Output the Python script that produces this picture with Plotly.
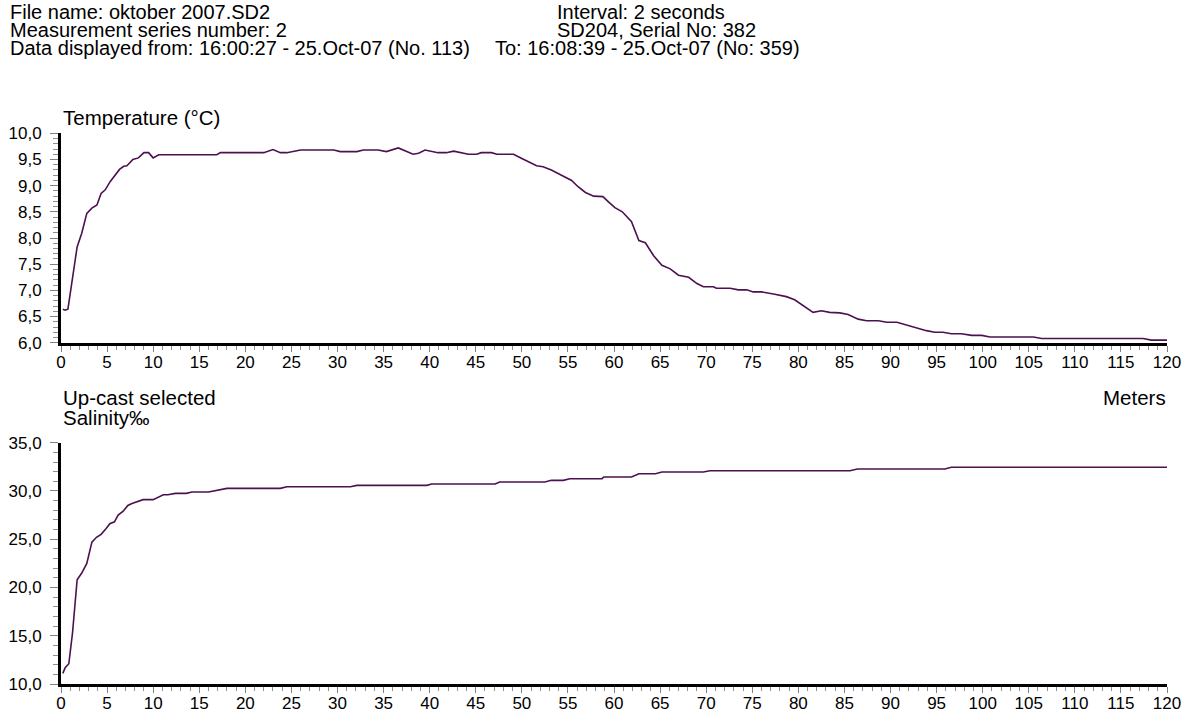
import plotly.graph_objects as go

# ---------------- data ----------------
temp_depth = [0.2, 0.45, 0.75, 1.25, 1.75, 2.25, 2.8, 3.35, 3.9, 4.35, 4.8, 5.35, 5.85, 6.35, 6.8, 7.15,
              7.8, 8.4, 9.0, 9.5, 10.0, 10.6, 16.9, 17.3, 22.0, 23.0, 23.8, 24.5, 26.0, 29.6, 30.3, 32.1,
              32.8, 34.4, 35.3, 36.6, 38.2, 38.8, 39.5, 40.9, 41.8, 42.6, 44.2, 45.1, 45.6, 46.7, 47.3,
              49.1, 50.0, 50.9, 51.6, 52.3, 53.2, 54.3, 55.4, 56.1, 56.9, 57.8, 58.8, 59.4, 60.1, 60.9,
              61.9, 62.7, 63.4, 64.3, 65.2, 66.1, 67.0, 68.1, 69.0, 69.7, 70.8, 71.1, 72.6, 73.5, 74.4,
              75.1, 76.0, 77.3, 78.7, 79.6, 80.7, 81.6, 82.5, 83.4, 84.5, 85.4, 86.5, 87.4, 88.7, 89.6,
              90.7, 91.8, 92.8, 93.9, 94.8, 95.7, 96.6, 97.7, 98.8, 99.9, 100.8, 105.5, 106.4, 117.4,
              118.3, 120.0]
temperature = [6.64, 6.62, 6.64, 7.20, 7.83, 8.09, 8.47, 8.57, 8.63, 8.85, 8.92, 9.08, 9.20, 9.31, 9.37, 9.38,
               9.50, 9.53, 9.63, 9.63, 9.53, 9.59, 9.59, 9.63, 9.63, 9.69, 9.63, 9.63, 9.68, 9.68, 9.65, 9.65,
               9.68, 9.68, 9.65, 9.72, 9.60, 9.62, 9.68, 9.63, 9.63, 9.66, 9.60, 9.60, 9.63, 9.63, 9.60,
               9.60, 9.52, 9.44, 9.38, 9.36, 9.30, 9.20, 9.10, 8.98, 8.87, 8.80, 8.79, 8.69, 8.58, 8.50,
               8.31, 7.95, 7.91, 7.66, 7.48, 7.41, 7.29, 7.25, 7.13, 7.07, 7.07, 7.04, 7.04, 7.01, 7.01,
               6.97, 6.97, 6.93, 6.88, 6.82, 6.68, 6.58, 6.61, 6.58, 6.57, 6.54, 6.45, 6.42, 6.42, 6.39,
               6.39, 6.33, 6.29, 6.23, 6.20, 6.20, 6.17, 6.17, 6.14, 6.14, 6.11, 6.11, 6.08, 6.08,
               6.05, 6.05]

sal_depth = [0.2, 0.45, 0.85, 1.25, 1.75, 2.25, 2.8, 3.35, 3.85, 4.35, 4.9, 5.3, 5.8, 6.2, 6.75, 7.25, 7.7,
             8.4, 8.9, 10.0, 10.6, 11.1, 11.6, 12.4, 13.6, 14.2, 16.0, 16.9, 17.4, 18.0, 23.8, 24.5, 31.4,
             32.1, 39.7, 40.2, 47.1, 47.6, 52.5, 53.2, 54.5, 55.2, 58.7, 58.9, 61.9, 62.7, 64.5, 65.2,
             69.7, 70.4, 85.6, 86.4, 95.9, 96.6, 120.0]
salinity = [11.1, 11.7, 12.1, 15.3, 20.8, 21.5, 22.5, 24.7, 25.2, 25.5, 26.1, 26.6, 26.8, 27.5, 27.9, 28.5, 28.7,
            28.9, 29.1, 29.1, 29.4, 29.6, 29.6, 29.75, 29.75, 29.9, 29.9, 30.1, 30.17, 30.27, 30.27, 30.44, 30.44,
            30.58, 30.58, 30.72, 30.72, 30.93, 30.93, 31.1, 31.1, 31.27, 31.27, 31.45, 31.45, 31.79, 31.79, 31.96,
            31.96, 32.1, 32.1, 32.28, 32.28, 32.45, 32.45]

header_left = ["File name: oktober 2007.SD2",
               "Measurement series number: 2",
               "Data displayed from: 16:00:27 - 25.Oct-07 (No. 113)"]
header_right = ["Interval: 2 seconds", "SD204, Serial No: 382"]
header_to = "To: 16:08:39 - 25.Oct-07 (No: 359)"

# ---------------- layout helpers ----------------
W, H = 1184, 713
FONT = "Arial, 'Liberation Sans', sans-serif"
LINE_COLOR = "#4d1050"


def px(x):
    return x / W


def py(y):
    return 1 - y / H


fig = go.Figure()
fig.add_trace(go.Scatter(x=temp_depth, y=temperature, mode="lines",
                         line=dict(color=LINE_COLOR, width=1.6), xaxis="x", yaxis="y",
                         showlegend=False, hoverinfo="skip"))
fig.add_trace(go.Scatter(x=sal_depth, y=salinity, mode="lines",
                         line=dict(color=LINE_COLOR, width=1.6), xaxis="x2", yaxis="y2",
                         showlegend=False, hoverinfo="skip"))

xdom = [px(61), px(1167)]
common_x = dict(range=[0, 120], tickmode="linear", tick0=0, dtick=5, ticks="outside",
                ticklen=6, tickwidth=1, tickcolor="#808080", showline=True, linecolor="black",
                linewidth=3, showgrid=False, zeroline=False, fixedrange=True,
                ticklabelstandoff=-4,
                tickfont=dict(family=FONT, size=17, color="black"),
                minor=dict(dtick=1, ticks="outside", ticklen=4, tickcolor="#909090", showgrid=False),
                domain=xdom)
common_y = dict(ticks="outside", ticklen=8, tickwidth=1, tickcolor="#808080", showline=True,
                linecolor="black", linewidth=3, showgrid=False, zeroline=False, fixedrange=True,
                ticklabelstandoff=5,
                tickformat=".1f", tickfont=dict(family=FONT, size=17, color="black"))

fig.update_layout(
    autosize=True,
    margin=dict(l=0, r=0, t=0, b=0, autoexpand=False),
    paper_bgcolor="white", plot_bgcolor="white",
    separators=",.",
    font=dict(family=FONT, size=20, color="black"),
    xaxis=dict(anchor="y", **common_x),
    yaxis=dict(anchor="x", domain=[py(342.7), py(133.3)], range=[6, 10], tickmode="linear",
               tick0=6, dtick=0.5,
               minor=dict(dtick=0.1, ticks="outside", ticklen=5, tickcolor="#909090", showgrid=False),
               **common_y),
    xaxis2=dict(anchor="y2", **common_x),
    yaxis2=dict(anchor="x2", domain=[py(684), py(442.7)], range=[10, 35], tickmode="linear",
                tick0=10, dtick=5,
                minor=dict(dtick=1, ticks="outside", ticklen=5, tickcolor="#909090", showgrid=False),
                **common_y),
)

HEAD = dict(family=FONT, size=20, color="black")
TXT = dict(family=FONT, size=20.5, color="black")
ann = []
for i, t in enumerate(header_left):
    ann.append(dict(text=t, x=px(8), y=py(12 + 18 * i), xanchor="left", yanchor="middle", font=HEAD))
for i, t in enumerate(header_right):
    ann.append(dict(text=t, x=px(555), y=py(12 + 18 * i), xanchor="left", yanchor="middle", font=HEAD))
ann.append(dict(text=header_to, x=px(493), y=py(12 + 18 * 2), xanchor="left", yanchor="middle", font=HEAD))
ann.append(dict(text="Temperature (°C)", x=px(61), y=py(117), xanchor="left", yanchor="middle", font=TXT))
ann.append(dict(text="Up-cast selected", x=px(61), y=py(397), xanchor="left", yanchor="middle", font=TXT))
ann.append(dict(text="Meters", x=px(1168), y=py(397), xanchor="right", yanchor="middle", font=TXT))
ann.append(dict(text="Salinity‰", x=px(61), y=py(417), xanchor="left", yanchor="middle", font=TXT))
for a in ann:
    a.update(xref="paper", yref="paper", showarrow=False)
fig.update_layout(annotations=ann)

fig.write_html("out.html",
               default_width="100vw", default_height="100vh",
               config={"displayModeBar": False, "responsive": True},
               post_script="document.body.style.margin='0';"
                           "document.documentElement.style.overflow='hidden';"
                           "document.body.style.overflow='hidden';"
                           "Plotly.Plots.resize(document.getElementById('{plot_id}'));")
